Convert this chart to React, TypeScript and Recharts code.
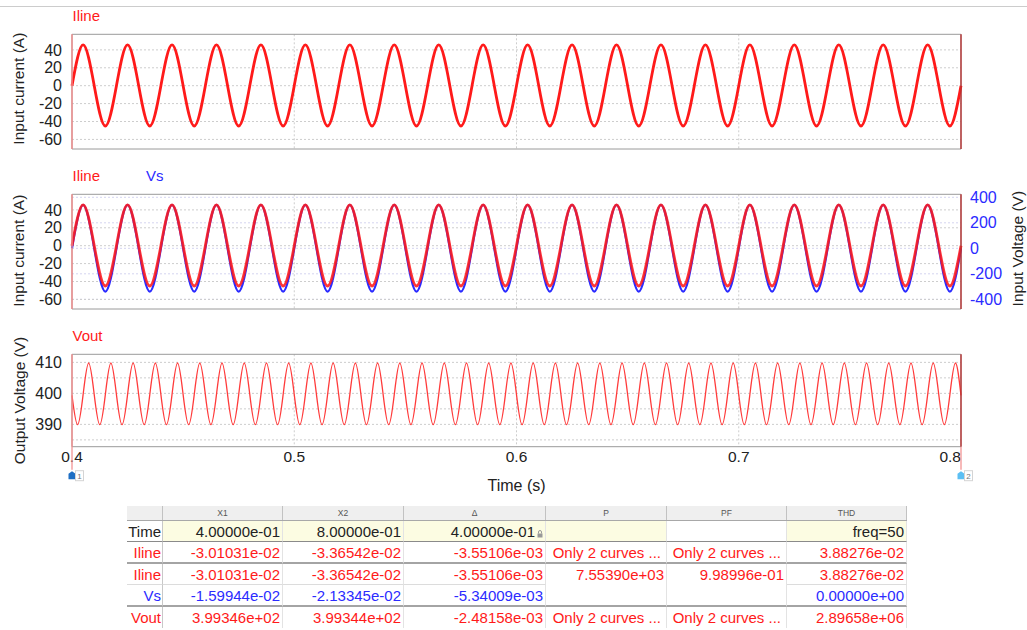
import React from "react";
import { LineChart, Line, XAxis, YAxis, CartesianGrid, ReferenceArea, ReferenceLine } from "recharts";

// samples every 5 ms (quarter period of the 50 Hz line)
const time50 = [
  0.4, 0.405, 0.41, 0.415, 0.42, 0.425, 0.43, 0.435, 0.44, 0.445,
  0.45, 0.455, 0.46, 0.465, 0.47, 0.475, 0.48, 0.485, 0.49, 0.495,
  0.5, 0.505, 0.51, 0.515, 0.52, 0.525, 0.53, 0.535, 0.54, 0.545,
  0.55, 0.555, 0.56, 0.565, 0.57, 0.575, 0.58, 0.585, 0.59, 0.595,
  0.6, 0.605, 0.61, 0.615, 0.62, 0.625, 0.63, 0.635, 0.64, 0.645,
  0.65, 0.655, 0.66, 0.665, 0.67, 0.675, 0.68, 0.685, 0.69, 0.695,
  0.7, 0.705, 0.71, 0.715, 0.72, 0.725, 0.73, 0.735, 0.74, 0.745,
  0.75, 0.755, 0.76, 0.765, 0.77, 0.775, 0.78, 0.785, 0.79, 0.795,
  0.8,
];

// Iline (A)
const iline = [
  -0.03, 45.5, 0, -45, 0, 45.5, 0, -45, 0, 45.5,
  0, -45, 0, 45.5, 0, -45, 0, 45.5, 0, -45,
  0, 45.5, 0, -45, 0, 45.5, 0, -45, 0, 45.5,
  0, -45, 0, 45.5, 0, -45, 0, 45.5, 0, -45,
  0, 45.5, 0, -45, 0, 45.5, 0, -45, 0, 45.5,
  0, -45, 0, 45.5, 0, -45, 0, 45.5, 0, -45,
  0, 45.5, 0, -45, 0, 45.5, 0, -45, 0, 45.5,
  0, -45, 0, 45.5, 0, -45, 0, 45.5, 0, -45,
  -0.034,
];

// Vs (V)
const vs = [
  -0.016, 340, 0, -340, 0, 340, 0, -340, 0, 340,
  0, -340, 0, 340, 0, -340, 0, 340, 0, -340,
  0, 340, 0, -340, 0, 340, 0, -340, 0, 340,
  0, -340, 0, 340, 0, -340, 0, 340, 0, -340,
  0, 340, 0, -340, 0, 340, 0, -340, 0, 340,
  0, -340, 0, 340, 0, -340, 0, 340, 0, -340,
  0, 340, 0, -340, 0, 340, 0, -340, 0, 340,
  0, -340, 0, 340, 0, -340, 0, 340, 0, -340,
  -0.021,
];

// samples every 2.5 ms (quarter period of the 100 Hz ripple)
const time100 = [
  0.4, 0.4025, 0.405, 0.4075, 0.41, 0.4125, 0.415, 0.4175, 0.42, 0.4225, 0.425, 0.4275, 0.43, 0.4325, 0.435, 0.4375, 0.44, 0.4425, 0.445, 0.4475,
  0.45, 0.4525, 0.455, 0.4575, 0.46, 0.4625, 0.465, 0.4675, 0.47, 0.4725, 0.475, 0.4775, 0.48, 0.4825, 0.485, 0.4875, 0.49, 0.4925, 0.495, 0.4975,
  0.5, 0.5025, 0.505, 0.5075, 0.51, 0.5125, 0.515, 0.5175, 0.52, 0.5225, 0.525, 0.5275, 0.53, 0.5325, 0.535, 0.5375, 0.54, 0.5425, 0.545, 0.5475,
  0.55, 0.5525, 0.555, 0.5575, 0.56, 0.5625, 0.565, 0.5675, 0.57, 0.5725, 0.575, 0.5775, 0.58, 0.5825, 0.585, 0.5875, 0.59, 0.5925, 0.595, 0.5975,
  0.6, 0.6025, 0.605, 0.6075, 0.61, 0.6125, 0.615, 0.6175, 0.62, 0.6225, 0.625, 0.6275, 0.63, 0.6325, 0.635, 0.6375, 0.64, 0.6425, 0.645, 0.6475,
  0.65, 0.6525, 0.655, 0.6575, 0.66, 0.6625, 0.665, 0.6675, 0.67, 0.6725, 0.675, 0.6775, 0.68, 0.6825, 0.685, 0.6875, 0.69, 0.6925, 0.695, 0.6975,
  0.7, 0.7025, 0.705, 0.7075, 0.71, 0.7125, 0.715, 0.7175, 0.72, 0.7225, 0.725, 0.7275, 0.73, 0.7325, 0.735, 0.7375, 0.74, 0.7425, 0.745, 0.7475,
  0.75, 0.7525, 0.755, 0.7575, 0.76, 0.7625, 0.765, 0.7675, 0.77, 0.7725, 0.775, 0.7775, 0.78, 0.7825, 0.785, 0.7875, 0.79, 0.7925, 0.795, 0.7975,
  0.8,
];

// Vout (V)
const vout = [
  399.35, 389.9, 399.6, 409.8, 399.6, 389.9, 399.6, 409.8, 399.6, 389.9, 399.6, 409.8, 399.6, 389.9, 399.6, 409.8, 399.6, 389.9, 399.6, 409.8,
  399.6, 389.9, 399.6, 409.8, 399.6, 389.9, 399.6, 409.8, 399.6, 389.9, 399.6, 409.8, 399.6, 389.9, 399.6, 409.8, 399.6, 389.9, 399.6, 409.8,
  399.6, 389.9, 399.6, 409.8, 399.6, 389.9, 399.6, 409.8, 399.6, 389.9, 399.6, 409.8, 399.6, 389.9, 399.6, 409.8, 399.6, 389.9, 399.6, 409.8,
  399.6, 389.9, 399.6, 409.8, 399.6, 389.9, 399.6, 409.8, 399.6, 389.9, 399.6, 409.8, 399.6, 389.9, 399.6, 409.8, 399.6, 389.9, 399.6, 409.8,
  399.6, 389.9, 399.6, 409.8, 399.6, 389.9, 399.6, 409.8, 399.6, 389.9, 399.6, 409.8, 399.6, 389.9, 399.6, 409.8, 399.6, 389.9, 399.6, 409.8,
  399.6, 389.9, 399.6, 409.8, 399.6, 389.9, 399.6, 409.8, 399.6, 389.9, 399.6, 409.8, 399.6, 389.9, 399.6, 409.8, 399.6, 389.9, 399.6, 409.8,
  399.6, 389.9, 399.6, 409.8, 399.6, 389.9, 399.6, 409.8, 399.6, 389.9, 399.6, 409.8, 399.6, 389.9, 399.6, 409.8, 399.6, 389.9, 399.6, 409.8,
  399.6, 389.9, 399.6, 409.8, 399.6, 389.9, 399.6, 409.8, 399.6, 389.9, 399.6, 409.8, 399.6, 389.9, 399.6, 409.8, 399.6, 389.9, 399.6, 409.8,
  399.34,
];

const timeTicks = [0.4, 0.5, 0.6, 0.7, 0.8];
const timeGrid = [0.5, 0.6, 0.7];
const currentTicks = [-60, -40, -20, 0, 20, 40];
const voltageTicks = [-400, -200, 0, 200, 400];
const voutTicks = [385, 390, 395, 400, 405, 410];

const currentRange = [-70.7, 57.4];
const voltageRange = [-476, 423.5];
const voutRange = [382.8, 412.6];

// cursor table
const cursorCols = ["X1", "X2", "\u0394", "P", "PF", "THD"];
const rowNames = ["Time", "Iline", "Iline", "Vs", "Vout"];
const rowValues = [
  ["4.00000e-01", "8.00000e-01", "4.00000e-01", "", "", "freq=50"],
  ["-3.01031e-02", "-3.36542e-02", "-3.55106e-03", "Only 2 curves ...", "Only 2 curves ...", "3.88276e-02"],
  ["-3.01031e-02", "-3.36542e-02", "-3.55106e-03", "7.55390e+03", "9.98996e-01", "3.88276e-02"],
  ["-1.59944e-02", "-2.13345e-02", "-5.34009e-03", "", "", "0.00000e+00"],
  ["3.99346e+02", "3.99344e+02", "-2.48158e-03", "Only 2 curves ...", "Only 2 curves ...", "2.89658e+06"],
];

const RED = "#ff1a1a";
const BLUE = "#2b2bff";
const TEXT = "#222";
const GRID = "#cdcdcd";
const FRAME = "#9a9a9a";
const CURSOR1 = "#f28a8a";
const CURSOR2 = "#b83434";

const rowColors = [TEXT, RED, RED, BLUE, RED];
const colWidths = [36, 120, 121, 142, 121, 120, 120];

const lineData = time50.map((t, i) => ({ t, iline: iline[i], vs: vs[i] }));
const voutData = time100.map((t, i) => ({ t, vout: vout[i] }));

function AxisTitle({ viewBox, value, cx, shift = 0 }: any) {
  const cy = viewBox.y + viewBox.height / 2 + shift;
  return (
    <text
      x={cx}
      y={cy}
      transform={`rotate(-90 ${cx} ${cy})`}
      textAnchor="middle"
      dominantBaseline="central"
      fill={TEXT}
      fontSize={15.5}
    >
      {value}
    </text>
  );
}

function CursorMark({ x, y, n, color }: any) {
  return (
    <g>
      <line x1={x} y1={y - 4} x2={x} y2={y + 19} stroke={CURSOR1} strokeWidth={1.2} />
      <path
        d={`M${x - 3.5},${y + 28.5} L${x - 3.5},${y + 23} L${x},${y + 20.5} L${x + 3.5},${y + 23} L${x + 3.5},${y + 28.5} Z`}
        fill={color}
      />
      <rect x={x + 3.5} y={y + 20} width={8} height={10} fill="#fff" stroke="#d4d4d4" />
      <text x={x + 7.5} y={y + 28} fontSize={8} fill="#777" textAnchor="middle">{n}</text>
    </g>
  );
}

function TimeTick({ x, y, payload }: any) {
  const v = payload.value;
  const first = v === timeTicks[0];
  const last = v === timeTicks[timeTicks.length - 1];
  return (
    <g>
      <text x={x} y={y} dy="0.72em" textAnchor={last ? "end" : "middle"} fill={TEXT} fontSize={15.5}>
        {v}
      </text>
      {first && <CursorMark x={x} y={y} n="1" color="#1f6fc4" />}
      {last && <CursorMark x={x} y={y} n="2" color="#5cbff3" />}
    </g>
  );
}

const tickStyle = { fill: TEXT, fontSize: 16 };

function SeriesLabel({ text, color, left, top }: any) {
  return (
    <div style={{ position: "absolute", left, top, color, fontSize: 15, lineHeight: "16px" }}>{text}</div>
  );
}

function CursorTable() {
  const lockIcon = (
    <svg width={6} height={8} style={{ marginLeft: 2, verticalAlign: "-1px" }}>
      <rect x={0.5} y={3.5} width={5} height={4} fill="#999" />
      <path d="M1.5,3.5 V2 a1.5,1.5 0 0 1 3,0 V3.5" fill="none" stroke="#999" />
    </svg>
  );
  return (
    <div style={{ position: "absolute", left: 127, top: 505.7, width: 780 }}>
      <div style={{ display: "flex", height: 15.3, background: "#efefef", borderBottom: "1px solid #a8a8a8", boxSizing: "border-box" }}>
        {["", ...cursorCols].map((c, i) => (
          <div
            key={i}
            style={{
              width: colWidths[i],
              boxSizing: "border-box",
              borderRight: "1px solid #c2c2c2",
              fontSize: 8.5,
              color: "#555",
              textAlign: "center",
              lineHeight: "14px",
            }}
          >
            {c}
          </div>
        ))}
      </div>
      {rowNames.map((name, r) => {
        const bottom =
          r === 0 ? "1px solid #8a8a8a" : r === 1 || r === 3 ? "2px solid #a4a4a4" : r === 2 ? "1px solid #dcdcdc" : "none";
        return (
          <div key={r} style={{ display: "flex", height: 21.4, fontSize: 15 }}>
            {[name, ...rowValues[r]].map((cell, c) => {
              const yellow = r === 0 && c > 0 && c !== 5;
              const noLine = r === 2 && (c === 4 || c === 5);
              const elided = cell.startsWith("Only");
              return (
                <div
                  key={c}
                  style={{
                    width: colWidths[c],
                    boxSizing: "border-box",
                    background: yellow ? "#fcfce2" : "#fff",
                    borderRight: c === 0 ? "1px solid #c8c8c8" : "1px solid #e3e3e3",
                    borderBottom: noLine ? "none" : bottom,
                    color: rowColors[r],
                    textAlign: "right",
                    paddingRight: elided ? 5 : c === 0 ? 1 : 2,
                    lineHeight: "21px",
                    whiteSpace: "nowrap",
                    overflow: "hidden",
                  }}
                >
                  {cell}
                  {r === 0 && c === 3 && lockIcon}
                </div>
              );
            })}
          </div>
        );
      })}
    </div>
  );
}

export default function App() {
  return (
    <div
      style={{
        position: "absolute",
        left: 0,
        top: 0,
        width: 1027,
        height: 630,
        overflow: "hidden",
        background: "#fff",
        fontFamily: "Arial, 'Liberation Sans', sans-serif",
      }}
    >
      <div style={{ position: "absolute", left: 0, top: 6, width: 1027, height: 1, background: "#cccccc" }} />

      {/* panel 1: input current */}
      <SeriesLabel text="Iline" color={RED} left={72.5} top={8} />
      <div style={{ position: "absolute", left: 0, top: 0 }}>
        <LineChart width={1027} height={160} data={lineData} margin={{ top: 34.3, right: 66, bottom: 11, left: 0 }}>
          <XAxis type="number" dataKey="t" domain={[0.4, 0.8]} ticks={timeTicks} hide />
          <YAxis
            type="number"
            domain={currentRange}
            ticks={currentTicks}
            interval={0}
            width={72}
            axisLine={false}
            tickLine={false}
            tickSize={8}
            tickMargin={2}
            tick={tickStyle}
            label={(p: any) => <AxisTitle {...p} value="Input current (A)" cx={19} shift={-3} />}
          />
          <CartesianGrid horizontalValues={currentTicks} verticalValues={timeGrid} stroke={GRID} strokeDasharray="2 2" />
          <ReferenceArea x1={0.4} x2={0.8} y1={currentRange[0]} y2={currentRange[1]} fill="none" stroke={FRAME} />
          <Line type="natural" dataKey="iline" stroke={RED} strokeWidth={2.8} dot={false} isAnimationActive={false} />
          <ReferenceLine x={0.4} stroke={CURSOR1} strokeWidth={1.4} />
          <ReferenceLine x={0.8} stroke={CURSOR2} strokeWidth={1.4} />
        </LineChart>
      </div>

      {/* panel 2: input current and source voltage */}
      <SeriesLabel text="Iline" color={RED} left={72.5} top={168} />
      <SeriesLabel text="Vs" color={BLUE} left={146} top={168} />
      <div style={{ position: "absolute", left: 0, top: 160 }}>
        <LineChart width={1027} height={160} data={lineData} margin={{ top: 34.3, right: 0, bottom: 11, left: 0 }}>
          <XAxis type="number" dataKey="t" domain={[0.4, 0.8]} ticks={timeTicks} hide />
          <YAxis
            yAxisId="i"
            type="number"
            domain={currentRange}
            ticks={currentTicks}
            interval={0}
            width={72}
            axisLine={false}
            tickLine={false}
            tickSize={8}
            tickMargin={2}
            tick={tickStyle}
            label={(p: any) => <AxisTitle {...p} value="Input current (A)" cx={19} shift={-1} />}
          />
          <YAxis
            yAxisId="v"
            orientation="right"
            type="number"
            domain={voltageRange}
            ticks={voltageTicks}
            interval={0}
            width={66}
            axisLine={false}
            tickLine={false}
            tickSize={7}
            tickMargin={2}
            tick={{ fill: BLUE, fontSize: 16 }}
            label={(p: any) => <AxisTitle {...p} value="Input Voltage (V)" cx={1018} shift={-3} />}
          />
          <CartesianGrid yAxisId="v" horizontalValues={voltageTicks} vertical={false} stroke="#d4d4f0" strokeDasharray="2 2" />
          <CartesianGrid yAxisId="i" horizontalValues={currentTicks} verticalValues={timeGrid} stroke={GRID} strokeDasharray="2 2" />
          <ReferenceArea yAxisId="i" x1={0.4} x2={0.8} y1={currentRange[0]} y2={currentRange[1]} fill="none" stroke={FRAME} />
          <Line yAxisId="v" type="natural" dataKey="vs" stroke={BLUE} strokeWidth={2.2} dot={false} isAnimationActive={false} />
          <Line yAxisId="i" type="natural" dataKey="iline" stroke={RED} strokeWidth={2.8} strokeOpacity={0.88} dot={false} isAnimationActive={false} />
          <ReferenceLine yAxisId="i" x={0.4} stroke={CURSOR1} strokeWidth={1.4} />
          <ReferenceLine yAxisId="i" x={0.8} stroke={CURSOR2} strokeWidth={1.4} />
        </LineChart>
      </div>

      {/* panel 3: output voltage */}
      <SeriesLabel text="Vout" color={RED} left={72.5} top={328} />
      <div style={{ position: "absolute", left: 0, top: 320 }}>
        <LineChart width={1027} height={180} data={voutData} margin={{ top: 34.3, right: 66, bottom: 0, left: 0 }}>
          <XAxis
            type="number"
            dataKey="t"
            domain={[0.4, 0.8]}
            ticks={timeTicks}
            interval={0}
            height={53.3}
            axisLine={false}
            tickLine={false}
            tickSize={2}
            tickMargin={2}
            tick={(p: any) => <TimeTick {...p} />}
            label={{ value: "Time (s)", position: "insideBottom", offset: 9, fill: TEXT, fontSize: 16 }}
          />
          <YAxis
            type="number"
            domain={voutRange}
            ticks={voutTicks}
            interval={0}
            width={72}
            axisLine={false}
            tickLine={false}
            tickSize={8}
            tickMargin={2}
            tick={tickStyle}
            tickFormatter={(v: number) => (v % 10 === 0 ? String(v) : "")}
            label={(p: any) => <AxisTitle {...p} value="Output Voltage (V)" cx={19} />}
          />
          <CartesianGrid horizontalValues={voutTicks} verticalValues={timeGrid} stroke={GRID} strokeDasharray="2 2" />
          <ReferenceArea x1={0.4} x2={0.8} y1={voutRange[0]} y2={voutRange[1]} fill="none" stroke={FRAME} />
          <Line type="natural" dataKey="vout" stroke="#ff3b3b" strokeWidth={1.3} dot={false} isAnimationActive={false} />
          <ReferenceLine x={0.4} stroke={CURSOR1} strokeWidth={1.4} />
          <ReferenceLine x={0.8} stroke={CURSOR2} strokeWidth={1.4} />
        </LineChart>
      </div>

      <CursorTable />
    </div>
  );
}
